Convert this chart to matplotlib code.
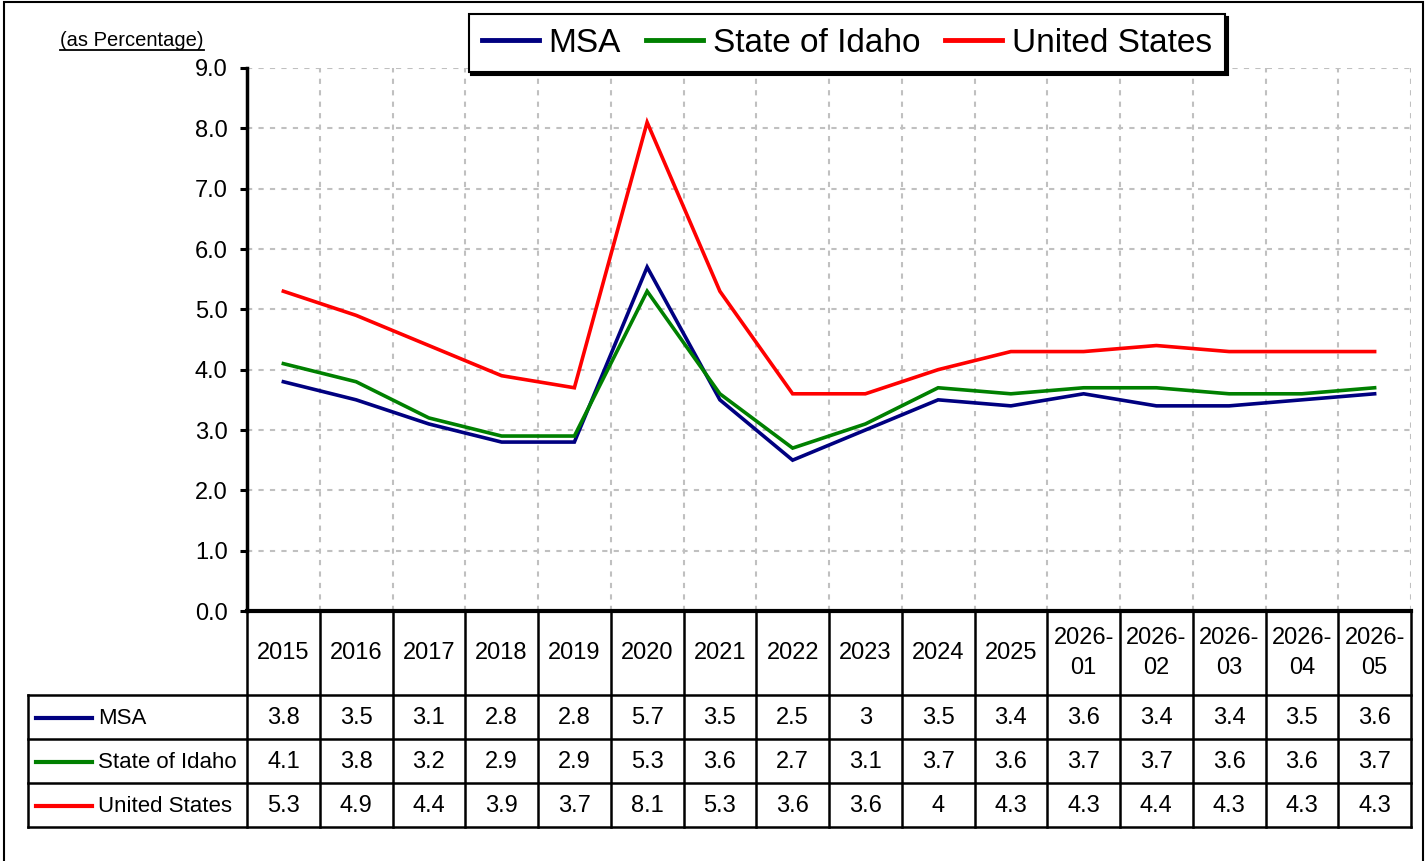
import numpy as np
import matplotlib.pyplot as plt
from matplotlib.patches import Rectangle

# data
categories = ["2015", "2016", "2017", "2018", "2019", "2020", "2021", "2022",
              "2023", "2024", "2025", "2026-\n01", "2026-\n02", "2026-\n03",
              "2026-\n04", "2026-\n05"]
msa = [3.8, 3.5, 3.1, 2.8, 2.8, 5.7, 3.5, 2.5, 3, 3.5, 3.4, 3.6, 3.4, 3.4, 3.5, 3.6]
idaho = [4.1, 3.8, 3.2, 2.9, 2.9, 5.3, 3.6, 2.7, 3.1, 3.7, 3.6, 3.7, 3.7, 3.6, 3.6, 3.7]
usa = [5.3, 4.9, 4.4, 3.9, 3.7, 8.1, 5.3, 3.6, 3.6, 4, 4.3, 4.3, 4.4, 4.3, 4.3, 4.3]
series_names = ["MSA", "State of Idaho", "United States"]
series_colors = ["#000080", "#008000", "#ff0000"]
yticks = [0, 1, 2, 3, 4, 5, 6, 7, 8, 9]

plt.rcParams['font.family'] = ['Liberation Sans', 'DejaVu Sans']

W, H = 1428, 861
fig = plt.figure(figsize=(W / 100, H / 100), dpi=100)

# figure pixel geometry
px_left, px_right = 247, 1411
px_top, px_bot = 68, 611
tab_bot = 827
lab_left = 28


def fx(px):
    return px / W


def fy(py):
    return 1 - py / H


ax = fig.add_axes([fx(px_left), fy(px_bot), fx(px_right) - fx(px_left), fy(px_top) - fy(px_bot)])
n = len(categories)
x = np.arange(n)
for vals, name, col in zip([msa, idaho, usa], series_names, series_colors):
    ax.plot(x, vals, color=col, lw=2.6, label=name, solid_joinstyle='miter')

ax.set_xlim(-0.5, n - 0.5)
ax.set_ylim(0, 9)
ax.set_yticks(yticks)
ax.set_yticklabels(["{:.1f}".format(v) for v in yticks], fontsize=17)
ax.set_xticks([])
ax.tick_params(axis='y', direction='out', length=5, width=2.2, pad=9)
for s in ['top', 'right']:
    ax.spines[s].set_visible(False)
ax.spines['left'].set_linewidth(2.5)
ax.spines['bottom'].set_linewidth(3)

# dashed grid
for yv in yticks[1:]:
    ax.axhline(yv, color='#c0c0c0', lw=1.5, ls=(0, (2.5, 3)), zorder=0)
for xv in np.arange(0.5, n, 1.0):
    ax.axvline(xv, color='#c0c0c0', lw=1.5, ls=(0, (2.5, 3)), zorder=0)

lab = fig.text(fx(60), fy(40), "(as Percentage)", fontsize=14.5, va='center', ha='left')
fig.canvas.draw()
bb = lab.get_window_extent()
fig.add_artist(plt.Line2D([bb.x0 / W, bb.x1 / W], [fy(50), fy(50)], color='black', lw=1.3))

# legend
leg = fig.legend(loc='center', bbox_to_anchor=(fx(847), fy(43)), ncol=3,
                 frameon=True, fancybox=False, edgecolor='black',
                 framealpha=1, shadow={'color': 'black', 'alpha': 1},
                 handlelength=1.7, columnspacing=0.75, handletextpad=0.3,
                 borderpad=0.4, prop={'size': 24})
leg.get_frame().set_linewidth(1.5)
for h in leg.get_lines():
    h.set_linewidth(3.5)

# data table
tab = fig.add_axes([fx(px_left), fy(tab_bot), fx(px_right) - fx(px_left), fy(px_bot) - fy(tab_bot)],
                   sharex=ax)
tab.set_ylim(tab_bot, px_bot)
tab.axis('off')
col_w = (px_right - px_left) / n


def dx(px):
    return -0.5 + (px - px_left) / col_w


row_edges = [695, 739, 783, 827]
lw_t = 1.8
for xv in np.arange(-0.5, n, 1.0):
    tab.plot([xv, xv], [px_bot, tab_bot], color='black', lw=lw_t, clip_on=False)
for yv in row_edges:
    tab.plot([dx(lab_left), n - 0.5], [yv, yv], color='black', lw=lw_t, clip_on=False)
tab.plot([dx(lab_left), dx(lab_left)], [row_edges[0], tab_bot], color='black', lw=lw_t, clip_on=False)

for i, c in enumerate(categories):
    tab.text(i, (px_bot + row_edges[0]) / 2, c, ha='center', va='center',
             fontsize=17, linespacing=1.45)

for r, (vals, name, col) in enumerate(zip([msa, idaho, usa], series_names, series_colors)):
    yc = (row_edges[r] + row_edges[r + 1]) / 2
    tab.plot([dx(36), dx(92)], [yc + 1, yc + 1], color=col, lw=3, clip_on=False)
    tab.text(dx(98), yc + 1, name, ha='left', va='center', fontsize=16, clip_on=False)
    for i, v in enumerate(vals):
        tab.text(i, yc + 1, "{:g}".format(v), ha='center', va='center', fontsize=17)

# outer border
fig.add_artist(Rectangle((fx(4), -0.01), fx(1423) - fx(4), fy(2) + 0.01,
                         transform=fig.transFigure, fill=False, edgecolor='black', lw=1.5))

fig.savefig("out.png", dpi=100)
